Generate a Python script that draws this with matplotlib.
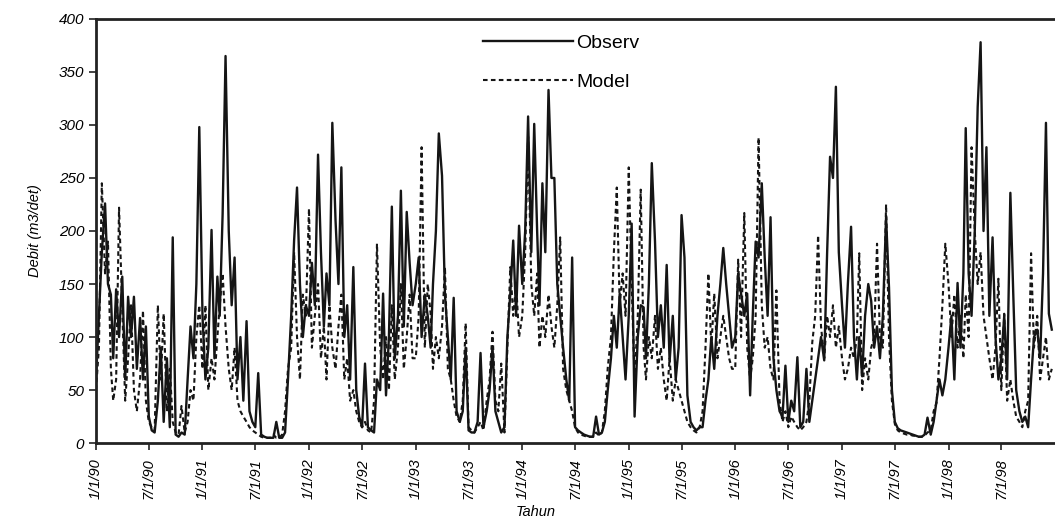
import pandas as pd
import matplotlib.pyplot as plt
import matplotlib.dates as mdates

# debit harian dibaca per dasarian (tgl 1, 11, 21) dari grafik, m3/det
obs_1990 = [60, 120, 180, 226, 150, 140, 80, 145, 100, 157, 60, 138, 100, 138, 70, 118, 60, 110,
            25, 12, 10, 40, 90, 20, 80, 15, 194, 8, 6, 10, 8, 60, 110, 80, 150, 298]
mod_1990 = [50, 90, 245, 160, 190, 70, 40, 60, 222, 125, 40, 80, 130, 50, 30, 60, 125, 40,
            20, 15, 12, 130, 60, 122, 30, 70, 20, 10, 8, 35, 10, 20, 50, 40, 100, 130]
obs_1991 = [120, 60, 90, 201, 80, 157, 120, 216, 365, 200, 130, 175, 60, 100, 40, 115, 30, 20,
            15, 66, 8, 6, 5, 5, 5, 20, 5, 5, 10, 60, 120, 191, 241, 150, 100, 130]
mod_1991 = [70, 130, 50, 80, 60, 100, 130, 160, 110, 70, 50, 90, 40, 30, 25, 20, 15, 12,
            10, 8, 6, 5, 5, 5, 8, 5, 5, 8, 30, 70, 90, 180, 100, 60, 140, 120]
obs_1992 = [120, 170, 130, 272, 180, 110, 160, 130, 302, 210, 150, 260, 100, 130, 60, 166, 50, 25,
            15, 75, 15, 12, 10, 60, 50, 141, 45, 100, 223, 80, 120, 238, 110, 218, 170, 130]
mod_1992 = [221, 90, 120, 150, 80, 110, 60, 130, 90, 70, 110, 140, 60, 80, 40, 50, 30, 20,
            15, 20, 12, 10, 40, 188, 90, 60, 100, 50, 130, 60, 90, 150, 70, 100, 140, 80]
obs_1993 = [150, 175, 100, 140, 120, 90, 150, 200, 292, 252, 140, 100, 60, 137, 30, 20, 30, 90,
            12, 10, 10, 20, 85, 15, 30, 50, 91, 30, 20, 10, 15, 100, 141, 191, 120, 205]
mod_1993 = [80, 120, 279, 90, 150, 122, 70, 100, 80, 110, 166, 70, 60, 40, 25, 20, 40, 113,
            15, 12, 10, 15, 20, 12, 40, 60, 105, 40, 30, 75, 10, 90, 166, 120, 150, 100]
obs_1994 = [150, 200, 308, 180, 301, 200, 130, 245, 180, 333, 250, 250, 150, 120, 90, 60, 40, 175,
            15, 12, 10, 8, 7, 6, 6, 25, 8, 10, 20, 50, 80, 120, 90, 141, 100, 60]
mod_1994 = [120, 180, 289, 150, 120, 160, 90, 120, 100, 140, 110, 90, 130, 194, 70, 50, 40, 30,
            15, 10, 8, 7, 6, 6, 6, 10, 7, 10, 30, 71, 100, 180, 241, 130, 160, 120]
obs_1995 = [120, 207, 25, 100, 130, 128, 80, 150, 264, 190, 100, 130, 90, 168, 77, 120, 60, 90,
            215, 175, 45, 20, 15, 12, 15, 15, 40, 60, 100, 70, 120, 150, 184, 150, 120, 90]
mod_1995 = [260, 150, 60, 120, 239, 90, 60, 100, 80, 120, 70, 90, 60, 40, 80, 40, 60, 50,
            40, 30, 20, 15, 12, 10, 15, 30, 90, 160, 90, 141, 80, 100, 120, 100, 80, 70]
obs_1996 = [100, 160, 141, 120, 141, 45, 120, 190, 175, 245, 175, 120, 213, 80, 50, 30, 25, 73,
            20, 40, 30, 81, 15, 20, 70, 20, 40, 60, 80, 100, 78, 180, 270, 250, 336, 180]
mod_1996 = [70, 173, 100, 217, 90, 60, 80, 120, 288, 130, 90, 100, 70, 60, 144, 40, 20, 30,
            15, 25, 20, 15, 12, 15, 20, 40, 95, 120, 196, 110, 80, 120, 100, 130, 90, 110]
obs_1997 = [130, 90, 150, 204, 100, 60, 100, 63, 120, 150, 134, 90, 110, 80, 120, 213, 147, 50,
            20, 14, 12, 11, 10, 9, 8, 7, 6, 6, 8, 24, 8, 20, 40, 60, 45, 60]
mod_1997 = [80, 60, 70, 90, 80, 100, 179, 50, 80, 60, 90, 100, 188, 100, 90, 225, 100, 40,
            18, 12, 10, 9, 8, 8, 7, 7, 6, 6, 7, 10, 12, 30, 38, 80, 130, 188]
obs_1998 = [90, 120, 60, 151, 90, 160, 297, 160, 120, 200, 317, 378, 200, 279, 120, 194, 100, 60,
            80, 120, 60, 236, 140, 50, 30, 20, 25, 15, 60, 100, 107, 80, 160, 302, 122, 107]
mod_1998 = [150, 100, 140, 90, 120, 80, 140, 100, 279, 200, 150, 180, 120, 100, 80, 60, 90, 155,
            50, 122, 40, 60, 40, 25, 20, 15, 30, 40, 179, 90, 120, 60, 80, 100, 60, 70]

years = list(range(1990, 1999))
observ = (obs_1990 + obs_1991 + obs_1992 + obs_1993 + obs_1994 +
          obs_1995 + obs_1996 + obs_1997 + obs_1998)
model = (mod_1990 + mod_1991 + mod_1992 + mod_1993 + mod_1994 +
         mod_1995 + mod_1996 + mod_1997 + mod_1998)

tanggal = [pd.Timestamp(y, m, d) for y in years for m in range(1, 13) for d in (1, 11, 21)]
df = pd.DataFrame({'tanggal': tanggal, 'observ': observ, 'model': model})

plt.rcParams['font.family'] = ['Liberation Sans', 'DejaVu Sans']

fig = plt.figure(figsize=(10.55, 5.25), dpi=100)
ax = fig.add_axes([0.091, 0.156, 0.909, 0.808])

ax.plot(df['tanggal'], df['observ'], color='#151515', lw=1.7, label='Observ')
ax.plot(df['tanggal'], df['model'], color='#151515', lw=1.5, ls=(0, (2.2, 1.6)), label='Model')

ax.set_xlim(pd.Timestamp(1990, 1, 1), pd.Timestamp(1999, 1, 1))
ax.set_ylim(0, 400)
ax.set_yticks(range(0, 401, 50))
ax.set_yticklabels([str(v) for v in range(0, 401, 50)], fontstyle='italic', fontsize=11)

xt = pd.date_range('1990-01-01', '1998-07-01', freq='6MS')
ax.set_xticks(mdates.date2num(xt))
ax.set_xticklabels([f'{d.month}/{d.day}/{d.year % 100:02d}' for d in xt],
                   rotation=90, fontstyle='italic', fontsize=10.5)
ax.tick_params(direction='out', length=5, width=1.2, color='#222222')
ax.tick_params(axis='x', pad=6)

for s in ['left', 'bottom', 'top']:
    ax.spines[s].set_linewidth(2)
    ax.spines[s].set_color('#222222')
ax.spines['right'].set_visible(False)

ax.set_ylabel('Debit (m3/det)', fontstyle='italic', fontsize=10.5, labelpad=12)
fig.text(0.508, 0.012, 'Tahun', fontstyle='italic', fontsize=10.5, ha='center', va='bottom')

ax.legend(loc='upper left', bbox_to_anchor=(0.458, 0.935), bbox_transform=fig.transFigure,
          frameon=False, fontsize=14, handlelength=4.6, handletextpad=0.2,
          labelspacing=1.1, borderpad=0, borderaxespad=0)

fig.savefig('out.png', dpi=100)
